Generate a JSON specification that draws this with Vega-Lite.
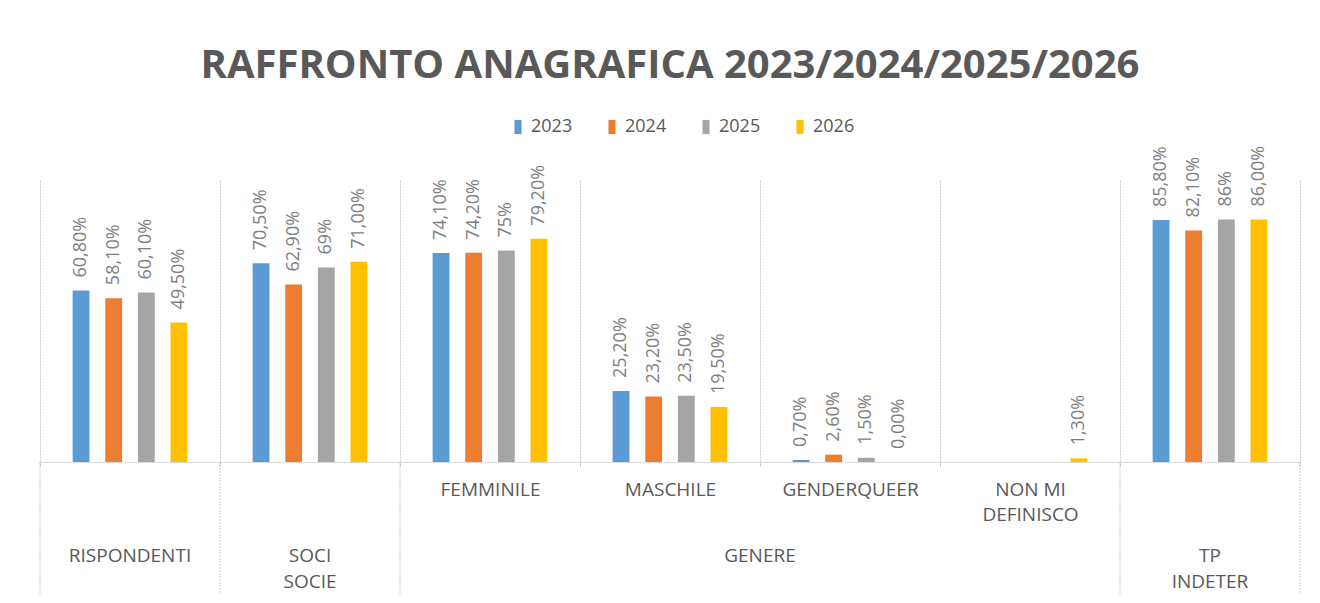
{
  "$schema": "https://vega.github.io/schema/vega-lite/v6.json",
  "width": 1260,
  "height": 282,
  "autosize": "none",
  "padding": {"left": 40, "top": 180, "right": 20, "bottom": 141},
  "background": "white",
  "title": {
    "text": "RAFFRONTO ANAGRAFICA 2023/2024/2025/2026",
    "font": "Open Sans",
    "fontSize": 40,
    "fontWeight": "bold",
    "color": "#595959",
    "anchor": "middle",
    "frame": "group",
    "offset": 32
  },
  "datasets": {
    "bars": [
      {"sub": "RISPONDENTI", "year": "2023", "value": 60.8, "label": "60,80%"},
      {"sub": "RISPONDENTI", "year": "2024", "value": 58.1, "label": "58,10%"},
      {"sub": "RISPONDENTI", "year": "2025", "value": 60.1, "label": "60,10%"},
      {"sub": "RISPONDENTI", "year": "2026", "value": 49.5, "label": "49,50%"},
      {"sub": "SOCI SOCIE", "year": "2023", "value": 70.5, "label": "70,50%"},
      {"sub": "SOCI SOCIE", "year": "2024", "value": 62.9, "label": "62,90%"},
      {"sub": "SOCI SOCIE", "year": "2025", "value": 69, "label": "69%"},
      {"sub": "SOCI SOCIE", "year": "2026", "value": 71.0, "label": "71,00%"},
      {"sub": "FEMMINILE", "year": "2023", "value": 74.1, "label": "74,10%"},
      {"sub": "FEMMINILE", "year": "2024", "value": 74.2, "label": "74,20%"},
      {"sub": "FEMMINILE", "year": "2025", "value": 75, "label": "75%"},
      {"sub": "FEMMINILE", "year": "2026", "value": 79.2, "label": "79,20%"},
      {"sub": "MASCHILE", "year": "2023", "value": 25.2, "label": "25,20%"},
      {"sub": "MASCHILE", "year": "2024", "value": 23.2, "label": "23,20%"},
      {"sub": "MASCHILE", "year": "2025", "value": 23.5, "label": "23,50%"},
      {"sub": "MASCHILE", "year": "2026", "value": 19.5, "label": "19,50%"},
      {"sub": "GENDERQUEER", "year": "2023", "value": 0.7, "label": "0,70%"},
      {"sub": "GENDERQUEER", "year": "2024", "value": 2.6, "label": "2,60%"},
      {"sub": "GENDERQUEER", "year": "2025", "value": 1.5, "label": "1,50%"},
      {"sub": "GENDERQUEER", "year": "2026", "value": 0.0, "label": "0,00%"},
      {"sub": "NON MI DEFINISCO", "year": "2026", "value": 1.3, "label": "1,30%"},
      {"sub": "TP INDETER", "year": "2023", "value": 85.8, "label": "85,80%"},
      {"sub": "TP INDETER", "year": "2024", "value": 82.1, "label": "82,10%"},
      {"sub": "TP INDETER", "year": "2025", "value": 86, "label": "86%"},
      {"sub": "TP INDETER", "year": "2026", "value": 86.0, "label": "86,00%"}
    ],
    "groups": [
      {"sub": "RISPONDENTI", "group": "RISPONDENTI"},
      {"sub": "SOCI SOCIE", "group": "SOCI\nSOCIE"},
      {"sub": "TP INDETER", "group": "TP\nINDETER"}
    ],
    "genere": [
      {"sub": "MASCHILE", "group": "GENERE"}
    ],
    "edges": [
      {"sub": "RISPONDENTI"},
      {"sub": "SOCI SOCIE"},
      {"sub": "FEMMINILE"},
      {"sub": "TP INDETER"}
    ],
    "lastEdge": [
      {"sub": "TP INDETER"}
    ]
  },
  "layer": [
    {
      "data": {"name": "bars"},
      "mark": {"type": "bar"},
      "encoding": {
        "x": {
          "field": "sub",
          "type": "nominal",
          "scale": {
            "domain": ["RISPONDENTI", "SOCI SOCIE", "FEMMINILE", "MASCHILE", "GENDERQUEER", "NON MI DEFINISCO", "TP INDETER"],
            "paddingInner": 0,
            "paddingOuter": 0
          },
          "axis": {
            "title": null,
            "tickBand": "extent",
            "grid": true,
            "gridColor": "#c8c8c8",
            "gridDash": [2, 1],
            "domainColor": "#c8c8c8",
            "domainDash": [2, 1],
            "ticks": true,
            "tickSize": 4,
            "tickColor": "#c8c8c8",
            "labelAngle": 0,
            "labelFont": "Open Sans",
            "labelFontSize": 19,
            "labelColor": "#595959",
            "labelPadding": 14,
            "labelLineHeight": 25,
            "labelBaseline": "top",
            "labelExpr": "datum.value == 'NON MI DEFINISCO' ? ['NON MI', 'DEFINISCO'] : (datum.value == 'FEMMINILE' || datum.value == 'MASCHILE' || datum.value == 'GENDERQUEER') ? datum.value : ''"
          }
        },
        "xOffset": {
          "field": "year",
          "type": "nominal",
          "scale": {"domain": ["2023", "2024", "2025", "2026"], "paddingInner": 0.484, "paddingOuter": 1.145}
        },
        "y": {"field": "value", "type": "quantitative", "scale": {"domain": [0, 100], "nice": false}, "axis": null},
        "color": {
          "field": "year",
          "type": "nominal",
          "scale": {"domain": ["2023", "2024", "2025", "2026"], "range": ["#5B9BD5", "#ED7D31", "#A5A5A5", "#FFC000"]},
          "legend": {
            "orient": "none",
            "legendX": 469,
            "legendY": -62,
            "direction": "horizontal",
            "title": null,
            "symbolType": "M-0.5,-1H0.5V1H-0.5Z",
            "symbolSize": 200,
            "symbolStrokeWidth": 0,
            "labelFont": "Open Sans",
            "labelFontSize": 18,
            "labelColor": "#595959",
            "labelOffset": 4,
            "columnPadding": 30
          }
        }
      }
    },
    {
      "data": {"name": "bars"},
      "mark": {"type": "text", "angle": 270, "align": "left", "baseline": "middle", "dx": 13, "font": "Open Sans", "fontSize": 18, "color": "#7f7f7f"},
      "encoding": {
        "x": {"field": "sub", "type": "nominal"},
        "xOffset": {"field": "year", "type": "nominal"},
        "y": {"field": "value", "type": "quantitative"},
        "text": {"field": "label"}
      }
    },
    {
      "data": {"name": "edges"},
      "mark": {"type": "rule", "color": "#c8c8c8", "strokeDash": [2, 1]},
      "encoding": {
        "x": {"field": "sub", "type": "nominal", "bandPosition": 0},
        "y": {"datum": 0},
        "y2": {"datum": -47}
      }
    },
    {
      "data": {"name": "lastEdge"},
      "mark": {"type": "rule", "color": "#c8c8c8", "strokeDash": [2, 1]},
      "encoding": {
        "x": {"field": "sub", "type": "nominal", "bandPosition": 1},
        "y": {"datum": 0},
        "y2": {"datum": -47}
      }
    },
    {
      "data": {"name": "groups"},
      "mark": {"type": "text", "baseline": "middle", "align": "center", "lineBreak": "\n", "lineHeight": 26, "font": "Open Sans", "fontSize": 19, "color": "#595959"},
      "encoding": {
        "x": {"field": "sub", "type": "nominal"},
        "y": {"datum": -33.2},
        "text": {"field": "group"}
      }
    },
    {
      "data": {"name": "genere"},
      "mark": {"type": "text", "baseline": "middle", "align": "center", "font": "Open Sans", "fontSize": 19, "color": "#595959"},
      "encoding": {
        "x": {"field": "sub", "type": "nominal", "bandPosition": 1},
        "y": {"datum": -33.2},
        "text": {"field": "group"}
      }
    }
  ],
  "config": {
    "view": {"stroke": null}
  }
}
